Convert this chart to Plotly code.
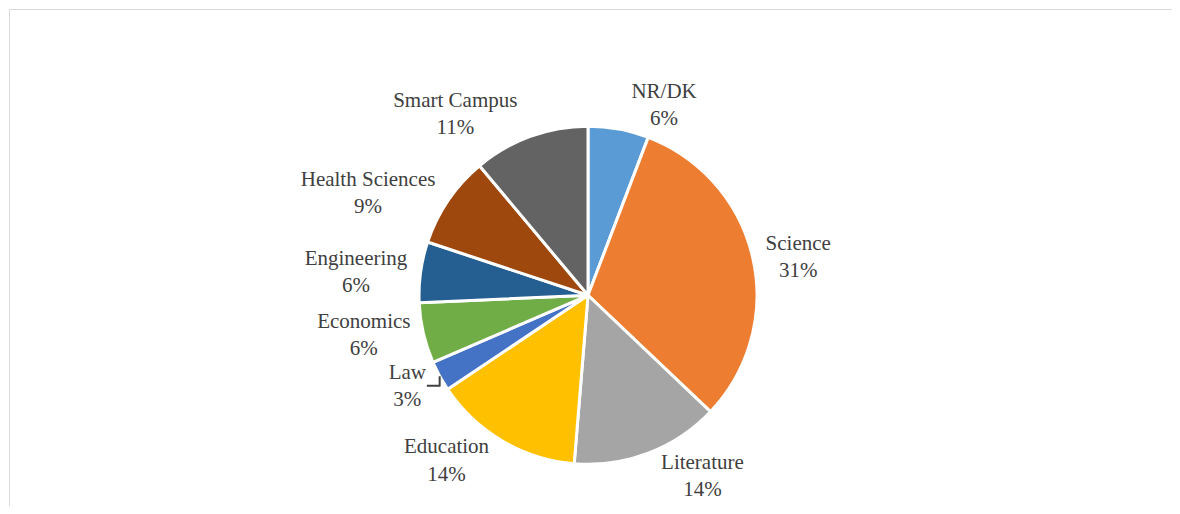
import plotly.graph_objects as go

labels = ["NR/DK", "Science", "Literature", "Education", "Law", "Economics",
          "Engineering", "Health Sciences", "Smart Campus"]
values = [5.8, 31.3, 14.2, 14.3, 2.9, 5.8, 5.8, 8.8, 11.1]
colors = ["#5B9BD5", "#ED7D31", "#A5A5A5", "#FFC000", "#4472C4", "#70AD47",
          "#255E91", "#9E480E", "#636363"]

OFF = 8
W, H = 1180 - 2 * OFF, 514 - 2 * OFF
cx, cy = 588 - OFF, 297 - OFF
half = 170

fig = go.Figure(go.Pie(
    labels=labels, values=values, sort=False, direction="clockwise", rotation=0,
    marker=dict(colors=colors, line=dict(color="white", width=3)),
    texttemplate="%{label}<br>%{percent:.0%}", textposition="outside",
    textfont=dict(family="Liberation Serif", size=21, color="#404040"),
    showlegend=False, hoverinfo="label+percent",
    domain=dict(x=[(cx - 300) / W, (cx + 300) / W], y=[1 - (cy + half) / H, 1 - (cy - half) / H]),
))
fig.update_layout(
    width=W, height=H, margin=dict(l=0, r=0, t=0, b=0),
    paper_bgcolor="white", plot_bgcolor="white",
    shapes=[dict(type="rect", xref="paper", yref="paper",
                 x0=(9.5 - OFF) / W, x1=1.05, y0=-0.05, y1=1 - (9.5 - OFF) / H,
                 line=dict(color="#D9D9D9", width=1), fillcolor="rgba(0,0,0,0)")],
)
fig.write_html("out.html")
